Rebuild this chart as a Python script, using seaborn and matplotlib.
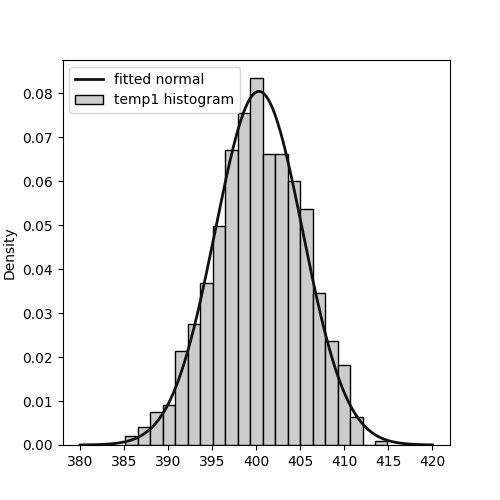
import numpy as np
import pandas as pd
import matplotlib
matplotlib.use("Agg")
import matplotlib.pyplot as plt
import seaborn as sns

# histogram of temp1 (density per bin)
bin_edges = [385.15, 386.57, 387.98, 389.40, 390.82, 392.23, 393.65, 395.07,
             396.48, 397.90, 399.32, 400.73, 402.15, 403.57, 404.98, 406.40,
             407.82, 409.23, 410.65, 412.07, 413.48, 414.90]
bin_density = [0.0020, 0.0042, 0.0074, 0.0090, 0.0214, 0.0276, 0.0368,
               0.0499, 0.0672, 0.0756, 0.0834, 0.0662, 0.0662, 0.0601,
               0.0537, 0.0345, 0.0236, 0.0181, 0.0064, 0.0, 0.0009]

# fitted normal parameters
fit_mu = 400.3
fit_sigma = 4.96
curve_range = (380, 420)

centers = [(a + b) / 2 for a, b in zip(bin_edges[:-1], bin_edges[1:])]
hist_df = pd.DataFrame({"temp1": centers, "density": bin_density})

xs = np.linspace(curve_range[0], curve_range[1], 400)
pdf = np.exp(-0.5 * ((xs - fit_mu) / fit_sigma) ** 2) / (fit_sigma * np.sqrt(2 * np.pi))

fig, ax = plt.subplots(figsize=(5, 5), dpi=100)

sns.histplot(data=hist_df, x="temp1", weights="density", bins=list(bin_edges),
             stat="count", ax=ax, color="#cccccc", alpha=1,
             edgecolor="black", linewidth=1, label="temp1 histogram")
sns.lineplot(x=xs, y=pdf, ax=ax, color="#111111", linewidth=2,
             label="fitted normal")

ax.set_xlabel("")
ax.set_ylabel("Density")
ax.set_xticks([380, 385, 390, 395, 400, 405, 410, 415, 420])
ax.legend(loc="upper left")

plt.savefig("out.png", dpi=100)
